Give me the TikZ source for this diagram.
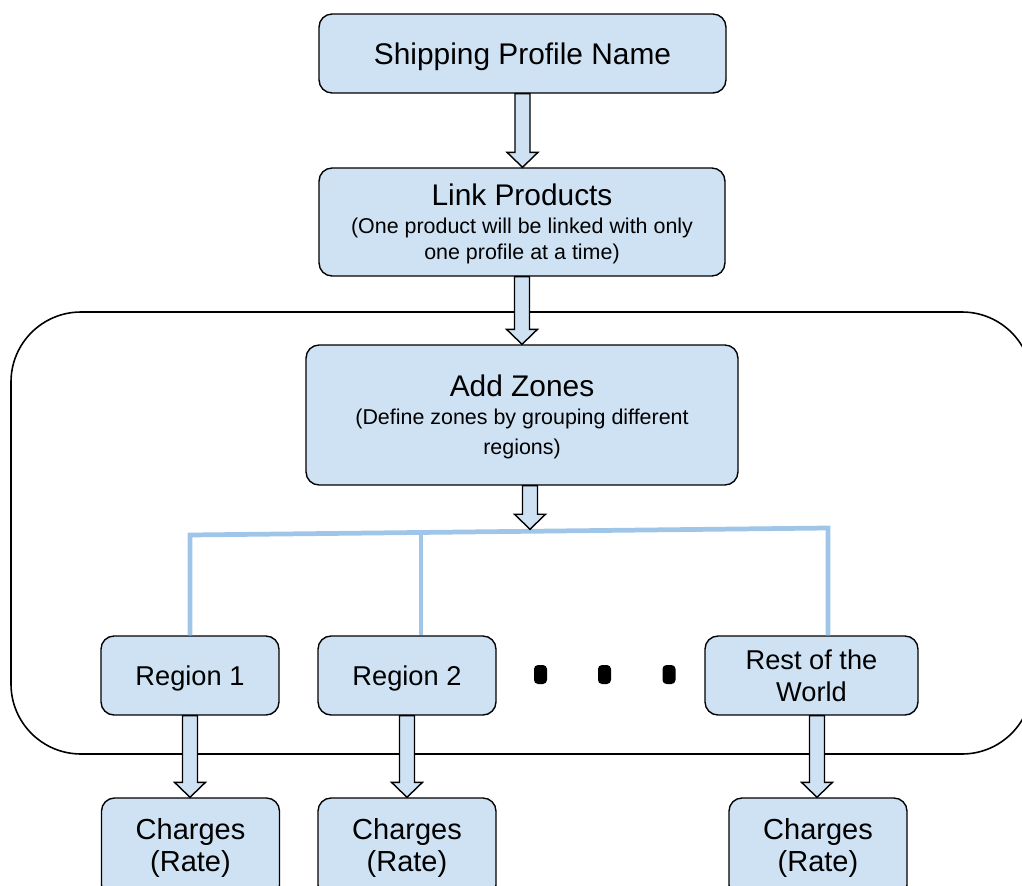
\documentclass[tikz,border=0pt]{standalone}
\usepackage{fontspec}
\setmainfont{Liberation Sans}
\usepackage{xcolor}
\usetikzlibrary{calc}

\definecolor{boxblue}{HTML}{CFE2F3}
\definecolor{busblue}{HTML}{9FC5E8}

\newcommand{\subline}{\fontsize{12.2}{14}\selectfont}
% hollow block arrow, straight down from #1 to the height of #2
\newcommand{\blockarrow}[2]{%
  \draw[fill=boxblue, line width=0.8pt] let \p1=#1, \p2=#2 in
    ({\x1-0.15cm},\y1) -- ({\x1-0.15cm},{\y2+0.3cm}) -- ({\x1-0.31cm},{\y2+0.3cm})
    -- (\x1,\y2) -- ({\x1+0.31cm},{\y2+0.3cm}) -- ({\x1+0.15cm},{\y2+0.3cm})
    -- ({\x1+0.15cm},\y1) -- cycle;}

\begin{document}
\begin{tikzpicture}[x=0.02cm, y=-0.02cm,
    box/.style={draw, fill=boxblue, line width=0.8pt, rounded corners=0.26cm, align=center, inner sep=0pt},
    bigbox/.style={box, text depth=0pt, font=\fontsize{17}{16}\selectfont},
    regionbox/.style={box, text depth=-0.5pt, minimum height=1.58cm, font=\fontsize{15.5}{18}\selectfont},
    chargebox/.style={box, minimum width=3.56cm, minimum height=2cm, font=\fontsize{16.5}{18.7}\selectfont},
    bus/.style={draw=busblue, line width=2.7pt}]
    \useasboundingbox (0,0) rectangle (1022,886);
    \clip (0,0) rectangle (1022,886);

    % Zone frame
    \draw[line width=0.9pt, rounded corners=1.4cm] (11,312) rectangle (1032,754);

    % Profile and products
    \node[bigbox, minimum width=8.14cm, minimum height=1.58cm] (profile) at (522.5,53.5) {Shipping Profile Name};
    \node[bigbox, text depth=-2pt, minimum width=8.12cm, minimum height=2.16cm] (link) at (522,222)
        {Link Products\\{\subline (One product will be linked with only}\\[-1.3pt]{\subline one profile at a time)}};
    % Zones
    \node[bigbox, text depth=-2pt, minimum width=8.64cm, minimum height=2.8cm] (zones) at (522,415)
        {Add Zones\\{\subline (Define zones by grouping different}\\[1pt]{\subline regions)}};

    % Regions
    \node[regionbox, minimum width=3.56cm] (reg1) at (190,675.5) {Region 1};
    \node[regionbox, minimum width=3.56cm] (reg2) at (407,675.5) {Region 2};
    \node[regionbox, minimum width=4.26cm] (world) at (811.5,675.5) {Rest of the\\World};
    \foreach \x in {540.5,604.5,669}
        \fill[rounded corners=0.08cm] (\x-6.5,665) rectangle (\x+6.5,684);

    % Charges
    \node[chargebox] (charge1) at (190.5,848) {Charges\\(Rate)};
    \node[chargebox] (charge2) at (407,848) {Charges\\(Rate)};
    \node[chargebox] (charge3) at (818,848) {Charges\\(Rate)};

    % Branch lines
    \coordinate (busL) at (190,535);
    \coordinate (busR) at (828,528);
    \coordinate (busM) at ($(busL)!0.362!(busR)$);
    \coordinate (busA) at ($(busL)!0.533!(busR)$);
    \draw[bus] (reg1.north) -- (busL) -- (busR) -- (busR |- world.north);
    \draw[bus] (busM) -- (busM |- reg2.north);

    % Arrows
    \blockarrow{(profile.south)}{(link.north)}
    \blockarrow{(link.south)}{(zones.north)}
    \blockarrow{($(zones.south)+(8,0)$)}{($(busA)+(0,-2)$)}
    \blockarrow{(reg1.south)}{(charge1.north)}
    \blockarrow{(reg2.south)}{(charge2.north)}
    \blockarrow{($(world.south)+(5.5,0)$)}{(charge3.north)}
\end{tikzpicture}
\end{document}
